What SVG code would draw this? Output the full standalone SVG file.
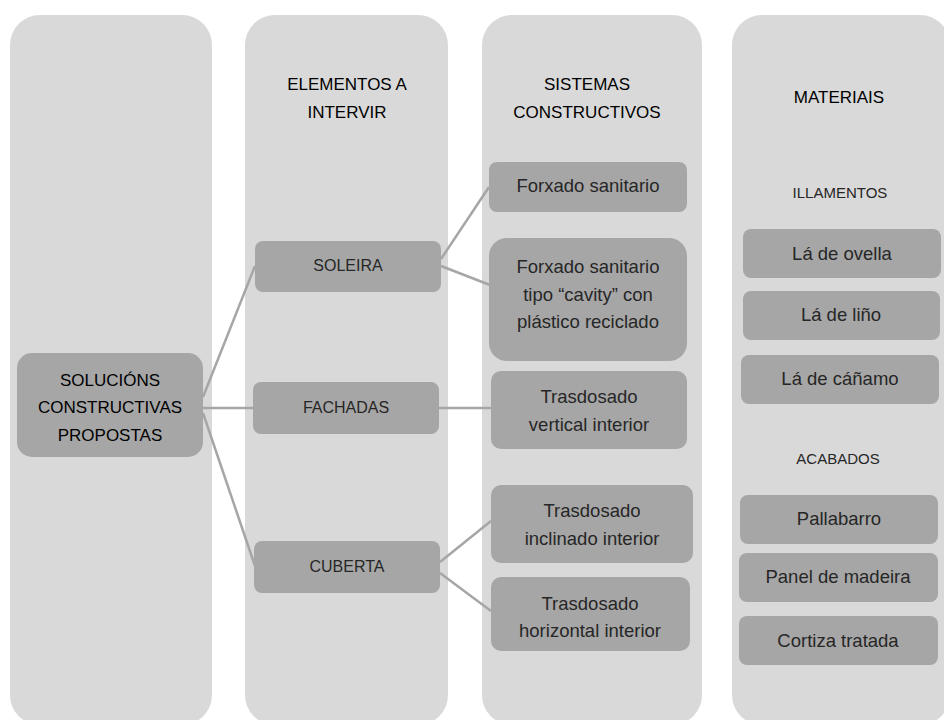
<svg xmlns="http://www.w3.org/2000/svg" width="944" height="720" viewBox="0 0 944 720">
<style>
.col{fill:#d9d9d9}
.node{fill:#a6a6a6}
.head{font-family:"Liberation Sans",Arial,sans-serif;font-size:17px;fill:#000;text-anchor:middle}
.lbl{font-family:"Liberation Sans",Arial,sans-serif;font-size:18.5px;fill:#262626;text-anchor:middle}
.cap{font-family:"Liberation Sans",Arial,sans-serif;font-size:16px;fill:#262626;text-anchor:middle}
.sub{font-family:"Liberation Sans",Arial,sans-serif;font-size:15px;fill:#262626;text-anchor:middle}
.con{stroke:#a6a6a6;stroke-width:2.5;fill:none}
</style>
<rect width="944" height="720" fill="#fff"/>
<g id="columns">
<rect class="col" x="10" y="15" width="202" height="710" rx="30"/>
<rect class="col" x="245" y="15" width="203" height="710" rx="30"/>
<rect class="col" x="482" y="15" width="220" height="710" rx="30"/>
<rect class="col" x="732" y="15" width="218" height="710" rx="30"/>
</g>
<g id="headings">
<text class="head" x="347" y="90">ELEMENTOS A</text>
<text class="head" x="347" y="118">INTERVIR</text>
<text class="head" x="587" y="90">SISTEMAS</text>
<text class="head" x="587" y="118">CONSTRUCTIVOS</text>
<text class="head" x="839" y="103">MATERIAIS</text>
<text class="sub" x="840" y="198">ILLAMENTOS</text>
<text class="sub" x="838" y="464">ACABADOS</text>
</g>
<g id="connectors">
<line class="con" x1="203" y1="397" x2="255" y2="266"/>
<line class="con" x1="203" y1="408" x2="253" y2="408"/>
<line class="con" x1="203" y1="413" x2="255" y2="566"/>
<line class="con" x1="441" y1="259" x2="489" y2="187"/>
<line class="con" x1="441" y1="266" x2="490" y2="285"/>
<line class="con" x1="439" y1="408" x2="491" y2="408"/>
<line class="con" x1="440" y1="562" x2="491" y2="521"/>
<line class="con" x1="440" y1="573" x2="491" y2="611"/>
</g>
<g id="n-solucions">
<rect class="node" x="17" y="353" width="186" height="104" rx="15"/>
<text class="head" x="110" y="386">SOLUCIÓNS</text>
<text class="head" x="110" y="413">CONSTRUCTIVAS</text>
<text class="head" x="110" y="441">PROPOSTAS</text>
</g>
<g id="n-soleira">
<rect class="node" x="255" y="241" width="186" height="51" rx="8"/>
<text class="cap" x="348" y="271">SOLEIRA</text>
</g>
<g id="n-fachadas">
<rect class="node" x="253" y="382" width="186" height="52" rx="8"/>
<text class="cap" x="346" y="413">FACHADAS</text>
</g>
<g id="n-cuberta">
<rect class="node" x="254" y="541" width="186" height="52" rx="8"/>
<text class="cap" x="347" y="572">CUBERTA</text>
</g>
<g id="n-forxado">
<rect class="node" x="489" y="162" width="198" height="50" rx="8"/>
<text class="lbl" x="588" y="192">Forxado sanitario</text>
</g>
<g id="n-cavity">
<rect class="node" x="489" y="238" width="198" height="123" rx="18"/>
<text class="lbl" x="588" y="273">Forxado sanitario</text>
<text class="lbl" x="588" y="301">tipo “cavity” con</text>
<text class="lbl" x="588" y="328">plástico reciclado</text>
</g>
<g id="n-vertical">
<rect class="node" x="491" y="371" width="196" height="78" rx="10"/>
<text class="lbl" x="589" y="403">Trasdosado</text>
<text class="lbl" x="589" y="431">vertical interior</text>
</g>
<g id="n-inclinado">
<rect class="node" x="491" y="485" width="202" height="78" rx="10"/>
<text class="lbl" x="592" y="517">Trasdosado</text>
<text class="lbl" x="592" y="545">inclinado interior</text>
</g>
<g id="n-horizontal">
<rect class="node" x="491" y="577" width="199" height="74" rx="10"/>
<text class="lbl" x="590" y="610">Trasdosado</text>
<text class="lbl" x="590" y="637">horizontal interior</text>
</g>
<g id="n-ovella">
<rect class="node" x="743" y="229" width="198" height="49" rx="8"/>
<text class="lbl" x="842" y="260">Lá de ovella</text>
</g>
<g id="n-lino">
<rect class="node" x="743" y="291" width="197" height="49" rx="8"/>
<text class="lbl" x="841" y="321">Lá de liño</text>
</g>
<g id="n-canamo">
<rect class="node" x="741" y="355" width="198" height="49" rx="8"/>
<text class="lbl" x="840" y="385">Lá de cáñamo</text>
</g>
<g id="n-pallabarro">
<rect class="node" x="740" y="495" width="198" height="49" rx="8"/>
<text class="lbl" x="839" y="525">Pallabarro</text>
</g>
<g id="n-panel">
<rect class="node" x="739" y="553" width="199" height="49" rx="8"/>
<text class="lbl" x="838" y="583">Panel de madeira</text>
</g>
<g id="n-cortiza">
<rect class="node" x="739" y="616" width="199" height="49" rx="8"/>
<text class="lbl" x="838" y="647">Cortiza tratada</text>
</g>
</svg>
